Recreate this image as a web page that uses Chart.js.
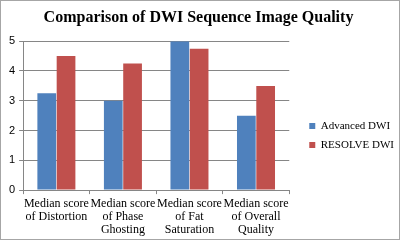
<!DOCTYPE html>
<html lang="en">
<head>
  <meta charset="UTF-8">
  <title>Comparison of DWI Sequence Image Quality</title>
  <script src="https://cdn.jsdelivr.net/npm/chart.js"></script>
  <style>
    html, body { margin: 0; padding: 0; background: #fff; }
    #wrap { position: relative; width: 398px; height: 238px; border: 1px solid #a6a6a6; }
  </style>
</head>
<body>
  <div id="wrap"><canvas id="dwiChart" width="398" height="238"></canvas></div>

  <script>
    // Chart data
    const categories = [
      ['Median score', 'of Distortion'],
      ['Median score', 'of Phase', 'Ghosting'],
      ['Median score', 'of Fat', 'Saturation'],
      ['Median score', 'of Overall', 'Quality']
    ];
    const advancedDWI = [3.25, 3.0, 5.0, 2.5];
    const resolveDWI = [4.5, 4.25, 4.75, 3.5];
    const yTicks = [0, 1, 2, 3, 4, 5];

    const serif = "'Liberation Serif', 'DejaVu Serif', serif";

    // nudge the legend a bit right and down, like the original
    const legendNudge = {
      id: 'legendNudge',
      afterLayout(chart) {
        const lg = chart.legend;
        lg.left += 12; lg.right += 12;
        lg.top += 13; lg.bottom += 13;
      }
    };

    const ctx = document.getElementById('dwiChart').getContext('2d');
    new Chart(ctx, {
      type: 'bar',
      data: {
        labels: categories,
        datasets: [
          {
            label: 'Advanced DWI',
            data: advancedDWI,
            backgroundColor: '#4f81bd',
            borderWidth: 0
          },
          {
            label: 'RESOLVE DWI',
            data: resolveDWI,
            backgroundColor: '#c0504d',
            borderWidth: 0
          }
        ]
      },
      plugins: [legendNudge],
      options: {
        responsive: false,
        animation: false,
        layout: { padding: { left: 4, right: 7, top: 5, bottom: 0 } },
        datasets: {
          bar: { categoryPercentage: 0.58, barPercentage: 0.97 }
        },
        plugins: {
          title: {
            display: true,
            text: 'Comparison of DWI Sequence Image Quality',
            color: '#000',
            font: { family: serif, size: 16, weight: 'bold' },
            padding: { top: 2, bottom: 14 }
          },
          legend: {
            position: 'right',
            maxWidth: 140,
            labels: {
              color: '#000',
              font: { family: serif, size: 11 },
              boxWidth: 6,
              boxHeight: 6,
              padding: 8
            }
          },
          tooltip: { enabled: false }
        },
        scales: {
          x: {
            grid: {
              display: true,
              drawOnChartArea: false,
              drawTicks: true,
              tickLength: 4,
              color: '#868686'
            },
            border: { color: '#868686' },
            ticks: {
              color: '#000',
              font: { family: serif, size: 12, lineHeight: 1.08 },
              maxRotation: 0,
              autoSkip: false,
              padding: 3
            }
          },
          y: {
            min: 0,
            max: 5,
            afterBuildTicks: axis => { axis.ticks = yTicks.map(v => ({ value: v })); },
            grid: {
              color: '#868686',
              tickLength: 4
            },
            border: { color: '#868686' },
            ticks: {
              color: '#000',
              font: { family: "'Liberation Sans', 'DejaVu Sans', sans-serif", size: 11 },
              padding: 4
            }
          }
        }
      }
    });
  </script>
</body>
</html>
